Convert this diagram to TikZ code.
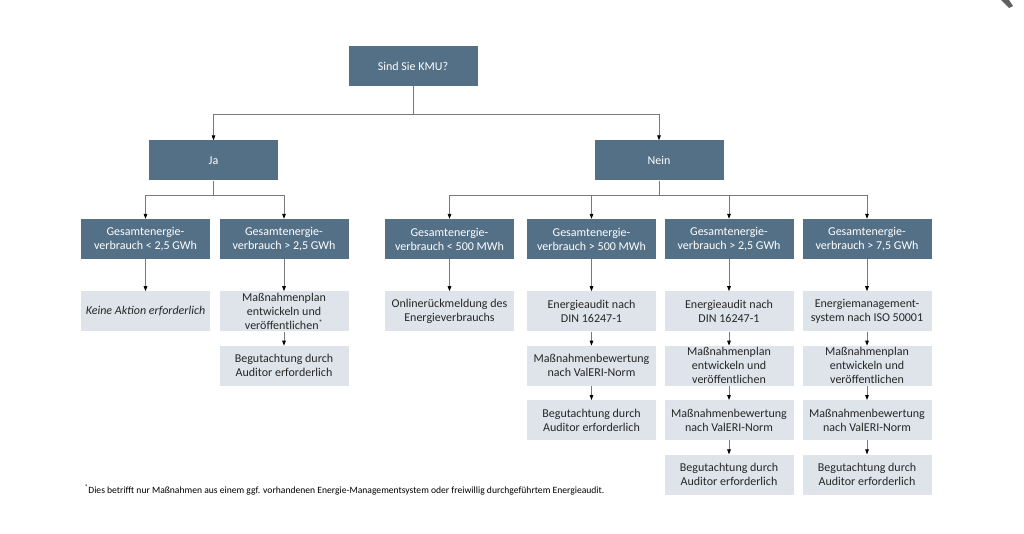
\documentclass[tikz,border=0pt]{standalone}
\usepackage{fontspec}
\setmainfont{Carlito}
\usepackage{tikz}
\usetikzlibrary{arrows.meta,positioning}
\definecolor{cSlate}{RGB}{84,112,135}
\definecolor{cPale}{RGB}{222,228,234}
\definecolor{cLine}{RGB}{120,120,120}
\definecolor{cInk}{RGB}{38,38,38}

\begin{document}
\begin{tikzpicture}[x=1pt, y=-1pt,
  dark/.style={fill=cSlate, text=white, minimum width=129pt, minimum height=40pt,
    inner sep=0.5pt, align=center, font=\fontsize{12}{14}\selectfont},
  pale/.style={fill=cPale, text=cInk, minimum width=129pt, minimum height=40pt,
    inner sep=0.5pt, align=center, font=\fontsize{12}{14}\selectfont},
  conn/.style={draw=cLine, line width=0.8pt, -{Triangle[length=5pt, width=3.6pt, color=black]}},
]
  \useasboundingbox (0,0) rectangle (1024,534);

  % top question and the two answers
  \node[dark] (kmu) at (413,66) {Sind Sie KMU?};
  \node[dark] (ja) at (213.5,160.5) {Ja};
  \node[dark] (nein) at (659,160.5) {Nein};

  % thresholds
  \node[dark] (kA) at (145.5,239) {Gesamtenergie-\\verbrauch < 2,5 GWh};
  \node[dark] (kB) at (284,239) {Gesamtenergie-\\verbrauch > 2,5 GWh};
  \node[dark] (nA) at (449.5,239) {Gesamtenergie-\\verbrauch < 500 MWh};
  \node[dark] (nB) at (591.5,239) {Gesamtenergie-\\verbrauch > 500 MWh};
  \node[dark] (nC) at (729,239) {Gesamtenergie-\\verbrauch > 2,5 GWh};
  \node[dark] (nD) at (867,239) {Gesamtenergie-\\verbrauch > 7,5 GWh};

  % KMU: ja
  \node[pale, below=32pt of kA] (kA1) {\itshape Keine Aktion erforderlich};
  \node[pale, below=32pt of kB] (kB1) {Maßnahmenplan\\entwickeln und\\veröffentlichen\textsuperscript{*}};
  \node[pale, below=14pt of kB1] (kB2) {Begutachtung durch\\Auditor erforderlich};

  % KMU: nein
  \node[pale, below=32pt of nA] (nA1) {Onlinerückmeldung des\\Energieverbrauchs};

  \node[pale, below=32pt of nB] (nB1) {Energieaudit nach\\DIN 16247-1};
  \node[pale, below=14pt of nB1] (nB2) {Maßnahmenbewertung\\nach ValERI-Norm};
  \node[pale, below=14pt of nB2] (nB3) {Begutachtung durch\\Auditor erforderlich};

  \node[pale, below=32pt of nC] (nC1) {Energieaudit nach\\DIN 16247-1};
  \node[pale, below=14pt of nC1] (nC2) {Maßnahmenplan\\entwickeln und\\veröffentlichen};
  \node[pale, below=14pt of nC2] (nC3) {Maßnahmenbewertung\\nach ValERI-Norm};
  \node[pale, below=14pt of nC3] (nC4) {Begutachtung durch\\Auditor erforderlich};

  \node[pale, below=32pt of nD] (nD1) {Energiemanagement-\\system nach ISO 50001};
  \node[pale, below=14pt of nD1] (nD2) {Maßnahmenplan\\entwickeln und\\veröffentlichen};
  \node[pale, below=14pt of nD2] (nD3) {Maßnahmenbewertung\\nach ValERI-Norm};
  \node[pale, below=14pt of nD3] (nD4) {Begutachtung durch\\Auditor erforderlich};

  % branch lines
  \coordinate (busTop) at (413,114);
  \coordinate (busJa) at (213.5,195);
  \coordinate (busNein) at (659,195);
  \draw[conn] (kmu.south) -- (busTop) -| (ja.north);
  \draw[conn] (busTop) -| (nein.north);
  \draw[conn] (ja.south) -- (busJa) -| (kA.north);
  \draw[conn] (busJa) -| (kB.north);
  \draw[draw=cLine, line width=0.8pt] (nein.south) -- (busNein);
  \foreach \t in {nA,nB,nC,nD}
    \draw[conn] (busNein) -| (\t.north);

  % vertical chains
  \foreach \a/\b in {kA/kA1,kB/kB1,kB1/kB2,nA/nA1,nB/nB1,nB1/nB2,nB2/nB3,
                     nC/nC1,nC1/nC2,nC2/nC3,nC3/nC4,nD/nD1,nD1/nD2,nD2/nD3,nD3/nD4}
    \draw[conn] (\a.south) -- (\b.north);

  % footnote
  \node[anchor=west, text=black, font=\fontsize{9.6}{11}\selectfont] (note) at (81,490)
    {\textsuperscript{*}Dies betrifft nur Maßnahmen aus einem ggf. vorhandenen Energie-Managementsystem oder freiwillig durchgeführtem Energieaudit.};

  % corner remnant
  \fill[cLine!80!black] (1001,0) -- (1009,0) -- (1013,6) -- (1009,8) -- cycle;
\end{tikzpicture}
\end{document}
